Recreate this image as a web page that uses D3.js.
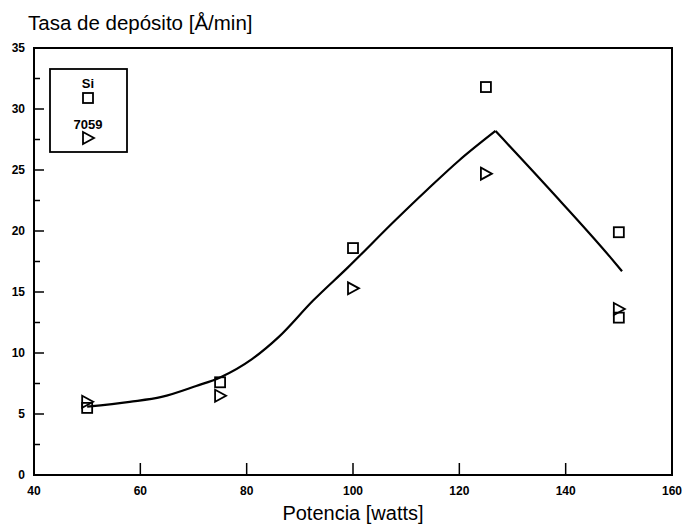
<!DOCTYPE html>
<html lang="es">
<head>
<meta charset="UTF-8">
<title>Tasa de depósito</title>
<script src="https://d3js.org/d3.v7.min.js"></script>
<style>
  html, body { margin: 0; padding: 0; background: #fff; }
  svg { display: block; }
  .tick-label { font-family: "Liberation Sans", Arial, sans-serif; font-weight: bold; font-size: 12px; fill: #000; }
  .title { font-family: "Liberation Sans", Arial, sans-serif; font-size: 20px; fill: #000; }
</style>
</head>
<body>
<svg id="chart" width="684" height="527"></svg>
<script>
// measured points
const siX = [50, 75, 100, 125, 150, 150];
const siY = [5.5, 7.6, 18.6, 31.8, 19.9, 12.9];
const glassX = [50, 75, 100, 125, 150];
const glassY = [6.0, 6.5, 15.3, 24.7, 13.6];

// fitted curve
const fitX = [50, 58, 64, 70.5, 75, 81, 86, 92.5, 99, 108, 114, 120, 126.8, 137, 148.3, 150.6];
const fitY = [5.6, 6.0, 6.4, 7.3, 8.0, 9.5, 11.3, 14.3, 17.0, 20.9, 23.4, 25.8, 28.2, 23.4, 17.9, 16.7];

const xTicks = [40, 60, 80, 100, 120, 140, 160];
const yTicks = [0, 5, 10, 15, 20, 25, 30, 35];
const yMinor = [2.5, 7.5, 12.5, 17.5, 22.5, 27.5, 32.5];

const svg = d3.select("#chart");
const plotL = 34, plotR = 672, plotT = 48, plotB = 475;

const x = d3.scaleLinear().domain([40, 160]).range([plotL, plotR]);
const y = d3.scaleLinear().domain([0, 35]).range([plotB, plotT]);

// frame
svg.append("rect")
  .attr("x", plotL).attr("y", plotT)
  .attr("width", plotR - plotL).attr("height", plotB - plotT)
  .attr("fill", "none").attr("stroke", "#000").attr("stroke-width", 2);

// y ticks
svg.selectAll(".ymaj").data(yTicks).enter().append("line")
  .attr("x1", plotL).attr("x2", plotL + 10)
  .attr("y1", d => y(d)).attr("y2", d => y(d))
  .attr("stroke", "#000").attr("stroke-width", 1.5);
svg.selectAll(".ymin").data(yMinor).enter().append("line")
  .attr("x1", plotL).attr("x2", plotL + 6)
  .attr("y1", d => y(d)).attr("y2", d => y(d))
  .attr("stroke", "#000").attr("stroke-width", 1.5);
svg.selectAll(".ylab").data(yTicks).enter().append("text")
  .attr("class", "tick-label")
  .attr("x", 25).attr("y", d => y(d) + 4)
  .attr("text-anchor", "end")
  .text(d => d);

// x ticks
svg.selectAll(".xmaj").data(xTicks.slice(1, -1)).enter().append("line")
  .attr("x1", d => x(d)).attr("x2", d => x(d))
  .attr("y1", plotB).attr("y2", plotB - 12)
  .attr("stroke", "#000").attr("stroke-width", 1.5);
svg.selectAll(".xlab").data(xTicks).enter().append("text")
  .attr("class", "tick-label")
  .attr("x", d => x(d)).attr("y", 495)
  .attr("text-anchor", "middle")
  .text(d => d);

// titles
svg.append("text").attr("class", "title")
  .attr("x", 28).attr("y", 30)
  .style("font-size", "20.5px")
  .text("Tasa de depósito [Å/min]");
svg.append("text").attr("class", "title")
  .attr("x", x(100)).attr("y", 520)
  .attr("text-anchor", "middle")
  .text("Potencia [watts]");

// fitted curve: smooth on each side, sharp corner at the maximum
const fit = fitX.map((d, i) => [d, fitY[i]]);
const iPeak = d3.maxIndex(fitY);
const line = d3.line().x(d => x(d[0])).y(d => y(d[1])).curve(d3.curveMonotoneX);
[fit.slice(0, iPeak + 1), fit.slice(iPeak)].forEach(part => {
  svg.append("path")
    .datum(part)
    .attr("fill", "none").attr("stroke", "#000").attr("stroke-width", 2.2)
    .attr("stroke-linejoin", "miter")
    .attr("d", line);
});

// markers
const sq = 10;
function square(g, cx, cy) {
  g.append("rect")
    .attr("x", cx - sq / 2).attr("y", cy - sq / 2)
    .attr("width", sq).attr("height", sq)
    .attr("fill", "none").attr("stroke", "#000").attr("stroke-width", 1.8);
}
function tri(g, cx, cy) {
  g.append("path")
    .attr("d", `M${cx - 5},${cy - 6}L${cx + 6},${cy}L${cx - 5},${cy + 6}Z`)
    .attr("fill", "none").attr("stroke", "#000").attr("stroke-width", 1.8);
}
const marks = svg.append("g");
siX.forEach((d, i) => square(marks, x(d), y(siY[i])));
glassX.forEach((d, i) => tri(marks, x(d), y(glassY[i])));

// legend
const leg = svg.append("g");
leg.append("rect")
  .attr("x", 50).attr("y", 69).attr("width", 77).attr("height", 83)
  .attr("fill", "#fff").attr("stroke", "#000").attr("stroke-width", 1.8);
leg.append("text").attr("class", "tick-label")
  .style("font-size", "13px")
  .attr("x", 88).attr("y", 88).attr("text-anchor", "middle").text("Si");
square(leg, 88, 98);
leg.append("text").attr("class", "tick-label")
  .style("font-size", "13px")
  .attr("x", 88).attr("y", 129).attr("text-anchor", "middle").text("7059");
tri(leg, 88, 138);
</script>
</body>
</html>
